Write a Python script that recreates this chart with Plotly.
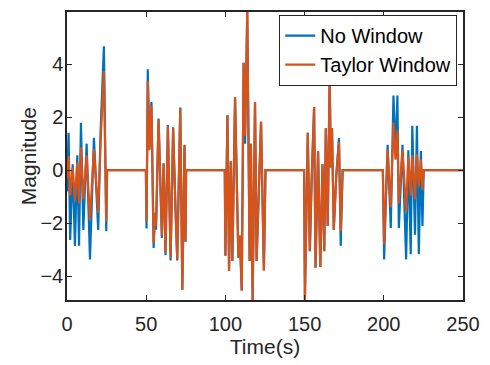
import plotly.graph_objects as go

# Time samples (s)
time = [0, 1, 2, 3.6, 5, 6.5, 7.6, 8.8, 10.3, 12.4, 14.5, 17, 19.7, 21.2, 23.3, 24.8, 25.3,
        49.8, 50.2, 51, 52, 53.3, 54.7, 55.5, 56.2, 57.8, 59.9, 61, 62.2, 63.7, 65.4, 67, 68.4,
        69.6, 71.5, 72.8, 74.2, 74.8, 75.2,
        99.6, 100, 101.3, 102.3, 103.4, 104.4, 106.1, 108.2, 109.2, 110.3, 111.5, 112.4, 113.8,
        115.3, 116.1, 117.2, 118.7, 119.7, 120.8, 122.5, 124.3, 125.3,
        149.7, 150.2, 152, 153.3, 154.4, 156, 156.9, 158.5, 159.9, 161.3, 162.4, 163.4, 164.6,
        165.8, 166.6, 167.3, 168.4, 170, 171.7, 172.8, 174,
        199.4, 200.2, 202.4, 204.4, 206.1, 207.4, 208.6, 209.5, 211.8, 214.1, 215.5, 217, 218,
        219.7, 220.9, 222.1, 223.4, 224.4, 225.2, 250]

# Signal without window
no_window = [-0.8, 1.41, -2.63, 0.22, -2.85, 0.56, -2.85, 1.79, -2.25, 1.0, -3.36, 1.22, -2.25, 1.46, 4.67, -2.3, 0,
             0, -2.2, 3.8, 0.8, 2.57, -2.93, -1.7, -2.24, 1.95, -2.55, 0.26, -3.2, 1.7, -3.4, 1.62, -1.25,
             -3.4, 2.36, -4.5, 0.96, -2.7, 0,
             0, -3.22, 2.07, -3.8, 0.35, -3.42, 2.75, -3.3, -2.7, -4.53, 4.05, 1.0, 5.96,
             -3.42, 1.0, -4.89, 2.57, -3.42, -1.5, 1.82, -3.78, 0,
             0, -4.88, 1.41, -3.05, -0.46, 2.38, -3.67, 0.72, -3.65, 0.22, -3.05, 1.58, -2.1,
             3.55, 0.1, 1.58, -2.25, -0.2, 1.21, -2.85, 0,
             0, -3.36, 0.96, -2.18, 2.81, 0.67, 2.81, -2.18, 0.96, -3.36, 0.75, -3.17, 1.67,
             -2.43, 1.67, -3.17, 0.72, -2.1, 0, 0]

# Signal with Taylor window
taylor_window = [-0.3, 0.52, -0.95, 0.1, -1.15, 0.3, -1.25, 0.85, -1.1, 0.55, -1.88, 0.8, -1.6, 1.1, 3.74, -1.93, 0,
                 0, -1.93, 3.37, 0.75, 2.44, -2.75, -1.6, -2.1, 1.9, -2.45, 0.24, -3.1, 1.65, -3.3, 1.58, -1.35,
                 -3.35, 2.33, -4.5, 0.94, -2.65, 0,
                 0, -3.22, 2.07, -3.8, 0.35, -3.42, 2.75, -3.3, -2.45, -4.53, 4.05, 1.3, 5.96,
                 -3.42, 1.0, -4.89, 2.57, -3.42, -1.2, 1.82, -3.78, 0,
                 0, -4.88, 1.41, -3.05, -0.46, 2.38, -3.67, 0.72, -3.65, 0.22, -3.05, 1.58, -2.1,
                 3.55, 0.1, 1.58, -2.25, -0.2, 1.05, -2.3, 0,
                 0, -2.8, 0.78, -1.4, 1.8, 0.4, 1.5, -1.25, 0.78, -1.57, 0.5, -0.95, 0.57,
                 -1.1, 0.6, -0.6, 0.4, -0.75, 0, 0]

series_names = ["No Window", "Taylor Window"]
x_ticks = [0, 50, 100, 150, 200, 250]
y_ticks = [-4, -2, 0, 2, 4]

AX = "#262626"
fig = go.Figure()
fig.add_trace(go.Scatter(x=time, y=no_window, mode="lines", name=series_names[0],
                         line=dict(color="#0072BD", width=2.2)))
fig.add_trace(go.Scatter(x=time, y=taylor_window, mode="lines", name=series_names[1],
                         line=dict(color="#D95319", width=2.2)))

axis_common = dict(showline=True, linecolor=AX, linewidth=1.5, mirror="ticks",
                   ticks="inside", ticklen=5, tickwidth=1.2, tickcolor=AX,
                   showgrid=False, zeroline=False,
                   tickfont=dict(size=20, color=AX))

fig.update_xaxes(range=[0, 250], tickvals=x_ticks, ticklabelstandoff=5,
                 title=dict(text="Time(s)", font=dict(size=21, color=AX), standoff=6),
                 **axis_common)
fig.update_yaxes(range=[-4.89, 5.96], tickvals=y_ticks, ticklabelstandoff=-2,
                 **axis_common)

fig.add_annotation(text="Magnitude", xref="paper", yref="paper", x=-0.098, y=0.5,
                   xanchor="center", yanchor="middle", textangle=-90, showarrow=False,
                   font=dict(size=21, color=AX))

fig.update_layout(
    width=490, height=365,
    margin=dict(l=67, r=25, t=10, b=62),
    plot_bgcolor="white", paper_bgcolor="white",
    font=dict(family="Liberation Sans, Arial, sans-serif", color=AX),
    showlegend=True,
    legend=dict(x=0.985, y=0.99, xanchor="right", yanchor="top",
                bgcolor="white", bordercolor=AX, borderwidth=1.2,
                font=dict(size=20, color="black")),
)

fig.write_html("out.html")
